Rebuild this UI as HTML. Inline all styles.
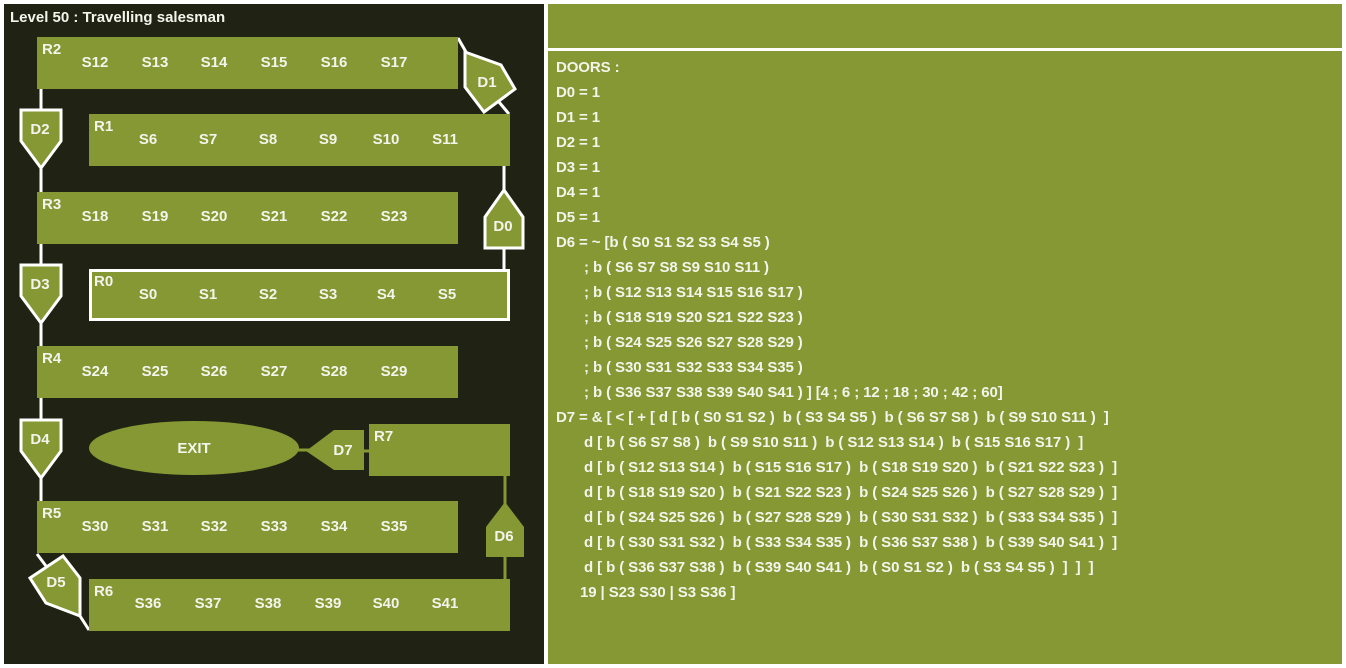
<!DOCTYPE html>
<html><head><meta charset="utf-8"><style>
html,body{margin:0;padding:0;background:#fff;width:1346px;height:668px;overflow:hidden}
svg text{font-family:"Liberation Sans",sans-serif;font-weight:bold;fill:#f4f4ec}
</style></head><body>
<svg width="1346" height="668" viewBox="0 0 1346 668" xmlns="http://www.w3.org/2000/svg">
<rect x="0" y="0" width="1346" height="668" fill="#fff"/>
<rect x="4" y="4" width="540" height="660" fill="#202314"/>
<rect x="548" y="4" width="794" height="44" fill="#859833"/>
<rect x="548" y="51" width="794" height="613" fill="#859833"/>
<text x="10" y="22" font-size="15">Level 50 : Travelling salesman</text>

<g stroke="#fff" stroke-width="3" fill="none">
<line x1="41" y1="89" x2="41" y2="346"/>
<line x1="41" y1="398" x2="41" y2="501"/>
<line x1="504" y1="166" x2="504" y2="269"/>
<line x1="458" y1="38" x2="466" y2="52"/>
<line x1="499" y1="102" x2="509" y2="114"/>
<line x1="37" y1="554" x2="46" y2="566"/>
<line x1="80" y1="616" x2="89" y2="630"/>
</g>
<g stroke="#859833" stroke-width="3">
<line x1="505" y1="476" x2="505" y2="579"/>
<line x1="363" y1="451" x2="369" y2="451"/>
<line x1="296" y1="450" x2="310" y2="450"/>
</g>

<g fill="#859833">
<rect x="37" y="37" width="421" height="52"/>
<rect x="89" y="114" width="421" height="52"/>
<rect x="37" y="192" width="421" height="52"/>
<rect x="90.5" y="270.5" width="418" height="49" stroke="#fff" stroke-width="3"/>
<rect x="37" y="346" width="421" height="52"/>
<rect x="369" y="424" width="141" height="52"/>
<rect x="37" y="501" width="421" height="52"/>
<rect x="89" y="579" width="421" height="52"/>
<ellipse cx="194" cy="448" rx="105" ry="27"/>
<polygon points="306,451 334,430 364,430 364,470 334,470"/>
<polygon points="505,502 524,527 524,557 486,557 486,527"/>
</g>
<g fill="#859833" stroke="#fff" stroke-width="3">
<polygon points="21,110 61,110 61,141 41,168 21,141"/>
<polygon points="21,265 61,265 61,296 41,323 21,296"/>
<polygon points="21,420 61,420 61,451 41,478 21,451"/>
<polygon points="504,190 523,217 523,248 485,248 485,217"/>
<polygon points="465,52 501,65 515,89 484,112 465,87"/>
<polygon points="30,578 63,556 80,578 80,616 46,603"/>
</g>

<g font-size="15">
<text x="42" y="54">R2</text><text x="94" y="131">R1</text><text x="42" y="209">R3</text><text x="94" y="286">R0</text>
<text x="42" y="363">R4</text><text x="374" y="441">R7</text><text x="42" y="518">R5</text><text x="94" y="596">R6</text>
</g>
<g font-size="15" text-anchor="middle">
<text x="95" y="67">S12</text><text x="155" y="67">S13</text><text x="214" y="67">S14</text><text x="274" y="67">S15</text><text x="334" y="67">S16</text><text x="394" y="67">S17</text>
<text x="148" y="144">S6</text><text x="208" y="144">S7</text><text x="268" y="144">S8</text><text x="328" y="144">S9</text><text x="386" y="144">S10</text><text x="445" y="144">S11</text>
<text x="95" y="221">S18</text><text x="155" y="221">S19</text><text x="214" y="221">S20</text><text x="274" y="221">S21</text><text x="334" y="221">S22</text><text x="394" y="221">S23</text>
<text x="148" y="299">S0</text><text x="208" y="299">S1</text><text x="268" y="299">S2</text><text x="328" y="299">S3</text><text x="386" y="299">S4</text><text x="447" y="299">S5</text>
<text x="95" y="376">S24</text><text x="155" y="376">S25</text><text x="214" y="376">S26</text><text x="274" y="376">S27</text><text x="334" y="376">S28</text><text x="394" y="376">S29</text>
<text x="95" y="531">S30</text><text x="155" y="531">S31</text><text x="214" y="531">S32</text><text x="274" y="531">S33</text><text x="334" y="531">S34</text><text x="394" y="531">S35</text>
<text x="148" y="608">S36</text><text x="208" y="608">S37</text><text x="268" y="608">S38</text><text x="328" y="608">S39</text><text x="386" y="608">S40</text><text x="445" y="608">S41</text>
<text x="194" y="453">EXIT</text>
<text x="40" y="134">D2</text><text x="40" y="289">D3</text><text x="40" y="444">D4</text>
<text x="503" y="231">D0</text><text x="504" y="541">D6</text><text x="487" y="87">D1</text>
<text x="56" y="587">D5</text><text x="343" y="455">D7</text>
</g>

<g font-size="15" letter-spacing="-0.1">
<text x="556" y="72">DOORS :</text>
<text x="556" y="97">D0 = 1</text>
<text x="556" y="122">D1 = 1</text>
<text x="556" y="147">D2 = 1</text>
<text x="556" y="172">D3 = 1</text>
<text x="556" y="197">D4 = 1</text>
<text x="556" y="222">D5 = 1</text>
<text x="556" y="247">D6 = ~ [b ( S0 S1 S2 S3 S4 S5 )</text>
<text x="584" y="272">; b ( S6 S7 S8 S9 S10 S11 )</text>
<text x="584" y="297">; b ( S12 S13 S14 S15 S16 S17 )</text>
<text x="584" y="322">; b ( S18 S19 S20 S21 S22 S23 )</text>
<text x="584" y="347">; b ( S24 S25 S26 S27 S28 S29 )</text>
<text x="584" y="372">; b ( S30 S31 S32 S33 S34 S35 )</text>
<text x="584" y="397">; b ( S36 S37 S38 S39 S40 S41 ) ] [4 ; 6 ; 12 ; 18 ; 30 ; 42 ; 60]</text>
<text x="556" y="422" xml:space="preserve">D7 = &amp; [ &lt; [ + [ d [ b ( S0 S1 S2 )  b ( S3 S4 S5 )  b ( S6 S7 S8 )  b ( S9 S10 S11 )  ]</text>
<text x="584" y="447" xml:space="preserve">d [ b ( S6 S7 S8 )  b ( S9 S10 S11 )  b ( S12 S13 S14 )  b ( S15 S16 S17 )  ]</text>
<text x="584" y="472" xml:space="preserve">d [ b ( S12 S13 S14 )  b ( S15 S16 S17 )  b ( S18 S19 S20 )  b ( S21 S22 S23 )  ]</text>
<text x="584" y="497" xml:space="preserve">d [ b ( S18 S19 S20 )  b ( S21 S22 S23 )  b ( S24 S25 S26 )  b ( S27 S28 S29 )  ]</text>
<text x="584" y="522" xml:space="preserve">d [ b ( S24 S25 S26 )  b ( S27 S28 S29 )  b ( S30 S31 S32 )  b ( S33 S34 S35 )  ]</text>
<text x="584" y="547" xml:space="preserve">d [ b ( S30 S31 S32 )  b ( S33 S34 S35 )  b ( S36 S37 S38 )  b ( S39 S40 S41 )  ]</text>
<text x="584" y="572" xml:space="preserve">d [ b ( S36 S37 S38 )  b ( S39 S40 S41 )  b ( S0 S1 S2 )  b ( S3 S4 S5 )  ]  ]  ]</text>
<text x="580" y="597">19 | S23 S30 | S3 S36 ]</text>
</g>
</svg>
</body></html>
